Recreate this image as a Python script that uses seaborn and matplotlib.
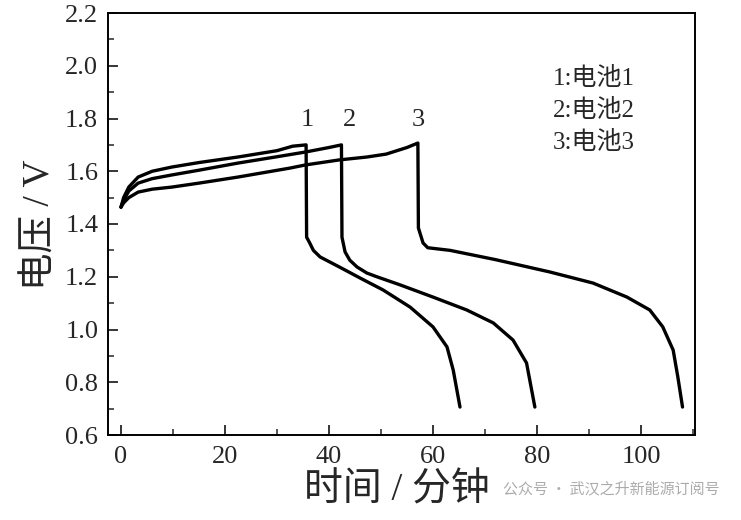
import matplotlib
matplotlib.use("Agg")
import matplotlib.pyplot as plt
from matplotlib.ticker import MultipleLocator
import seaborn as sns
import pandas as pd

# Battery 1
t1 = [0, 0.5, 1.5, 3.3, 6, 9.8, 15, 22.5, 30, 33, 35.6, 35.7, 36.3, 37.0, 38.3, 42, 46, 50.4, 55.6, 60, 62.7, 63.9, 65.2]
v1 = [1.464, 1.50, 1.54, 1.578, 1.600, 1.616, 1.633, 1.654, 1.678, 1.695, 1.700, 1.350, 1.328, 1.300, 1.275, 1.237, 1.195, 1.150, 1.085, 1.010, 0.934, 0.846, 0.706]
# Battery 2
t2 = [0, 0.5, 1.5, 3.3, 6, 9.8, 15, 22.5, 30, 35.5, 40, 42.4, 42.5, 43.1, 44, 45.4, 47.3, 49.2, 53.7, 60, 66.5, 71.6, 75.4, 78, 79.6]
v2 = [1.464, 1.49, 1.525, 1.555, 1.572, 1.586, 1.604, 1.631, 1.655, 1.673, 1.690, 1.700, 1.350, 1.294, 1.263, 1.237, 1.214, 1.200, 1.169, 1.123, 1.074, 1.025, 0.960, 0.873, 0.706]
# Battery 3
t3 = [0, 0.5, 1.5, 3.3, 6, 9.8, 15, 22.5, 32.5, 35.5, 42, 47.3, 51, 55, 57.1, 57.2, 58.1, 59, 63.3, 72, 82.5, 90.8, 97.3, 101.7, 104.2, 106.2, 107.1, 108]
v3 = [1.464, 1.48, 1.50, 1.521, 1.532, 1.540, 1.555, 1.578, 1.612, 1.624, 1.643, 1.654, 1.665, 1.690, 1.707, 1.385, 1.328, 1.310, 1.300, 1.265, 1.218, 1.176, 1.123, 1.074, 1.010, 0.922, 0.820, 0.706]

curve_labels = ["1", "2", "3"]
peak_times = [35.8, 44.0, 57.1]
legend_lines = ["1:电池1", "2:电池2", "3:电池3"]
xticks = [0, 20, 40, 60, 80, 100]
yticks = [0.6, 0.8, 1.0, 1.2, 1.4, 1.6, 1.8, 2.0, 2.2]
xlabel = "时间 / 分钟"
ylabel = "电压 / V"
watermark = "公众号 · 武汉之升新能源订阅号"

sns.set_style("ticks")
fam = ["Liberation Serif", "Noto Sans CJK SC", "DejaVu Sans"]
plt.rcParams["font.family"] = fam

fig = plt.figure(figsize=(7.41, 5.2), dpi=100)
ax = fig.add_axes([108/741, 1 - 435/520, (695-108)/741, (435-13)/520])

for t, v in [(t1, v1), (t2, v2), (t3, v3)]:
    df = pd.DataFrame({"t": t, "v": v})
    sns.lineplot(data=df, x="t", y="v", sort=False, estimator=None,
                 color="black", lw=2.4, ax=ax)

ax.set_xlim(-2.5, 110.4)
ax.set_ylim(0.6, 2.2)
ax.set_xticks(xticks)
ax.set_xticklabels([str(x) for x in xticks])
ax.set_yticks(yticks)
ax.set_yticklabels([f"{y:.1f}" for y in yticks])
ax.xaxis.set_minor_locator(MultipleLocator(10))
ax.yaxis.set_minor_locator(MultipleLocator(0.1))
ax.tick_params(which="major", direction="in", length=7, width=1.3, labelsize=19)
ax.tick_params(axis="x", which="major", pad=8)
ax.tick_params(axis="y", which="major", pad=7)
ax.tick_params(which="minor", direction="in", length=4, width=1.1)
for s in ax.spines.values():
    s.set_linewidth(1.4)
    s.set_color("black")

ax.set_xlabel("")
ax.set_ylabel("")

fig.text(720/741, 1 - 489/520, watermark, fontsize=10.8, color="#ababab", ha="right", va="center",
         family=["Noto Sans CJK SC", "DejaVu Sans"], zorder=1)
fig.text(397/741, 1 - 491/520, xlabel, fontsize=28, ha="center", va="center", family=fam, zorder=5)
fig.text(40/741, 1 - 225/520, ylabel, fontsize=27, ha="center", va="center", rotation=90, family=fam)

for lab, pt in zip(curve_labels, peak_times):
    ax.text(pt, 1.795, lab, fontsize=19, ha="center", va="center")

for i, line in enumerate(legend_lines):
    ax.text(83.0, 1.950 - i*0.12, line, fontsize=18, ha="left", va="center", family=fam)

fig.savefig("out.png", dpi=100)
